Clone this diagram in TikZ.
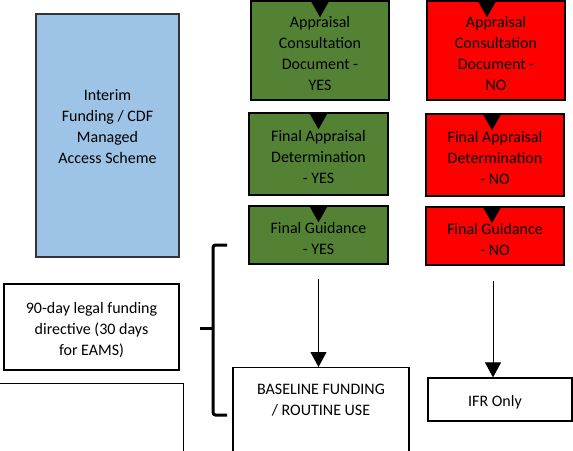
\documentclass[tikz,border=0pt]{standalone}
\usepackage{fontspec}
\setmainfont{Carlito}
\usetikzlibrary{arrows.meta,calc}
\definecolor{boxgreen}{HTML}{548235}
\definecolor{boxred}{HTML}{FF0000}
\definecolor{boxblue}{HTML}{9DC3E6}
% centred block of lines, set a little low as in the boxes' text
\newcommand\boxlines[2][136pt]{\parbox{#1}{\centering\vspace*{6pt}#2}}
\begin{document}
\begin{tikzpicture}[x=1pt,y=-1pt,
  txt/.style={font=\fontsize{16}{21}\selectfont, align=center, inner sep=0pt},
  box/.style={txt, draw=black, line width=1.6pt, minimum width=138pt},
  yesbox/.style={box, fill=boxgreen},
  nobox/.style={box, fill=boxred},
  plainbox/.style={txt, draw=black, line width=1.2pt},
  tiponly/.style={-{Triangle[length=17pt,width=19pt]}, line width=0.5pt},
  flow/.style={-{Triangle[length=15pt,width=16pt]}, line width=1pt},
  bracket/.style={line width=3pt, rounded corners=2.5pt}]
\useasboundingbox (0,0) rectangle (573,450);
\clip (0,0) rectangle (573,450);

% interim funding column
\node[txt, draw=black!80, line width=1.2pt, fill=boxblue] (interim) at (107.5,135.5)
  {\parbox[c][243pt][c]{143pt}{\centering Interim\\Funding / CDF\\Managed\\Access Scheme\par\vspace{18pt}}};

% positive route
\node[yesbox, minimum height=99pt] (g1) at (320,50.5) {\boxlines{Appraisal\\Consultation\\Document -\\YES}};
\node[yesbox, minimum width=139pt, minimum height=82pt] (g2) at (318.5,154) {\boxlines{Final Appraisal\\Determination\\- YES}};
\node[yesbox, minimum width=139pt, minimum height=58pt] (g3) at (318.5,235) {\boxlines{Final Guidance\\- YES}};

% negative route
\node[nobox, minimum height=99pt] (r1) at (496,50.5) {\boxlines{Appraisal\\Consultation\\Document -\\NO}};
\node[nobox, minimum height=82pt] (r2) at (495,155) {\boxlines{Final Appraisal\\Determination\\- NO}};
\node[nobox, minimum height=58pt] (r3) at (495,236) {\boxlines{Final Guidance\\- NO}};

% arrow heads entering each stage
\draw[tiponly] (g1.north) -- ++(0,17);
\draw[tiponly] (g2.north) -- ++(0,17);
\draw[tiponly] (g3.north) -- ++(0,17);
\draw[tiponly] ([xshift=-9pt]r1.north) -- ++(0,17);
\draw[tiponly] ([xshift=-3pt]r2.north) -- ++(0,17);
\draw[tiponly] ([xshift=-3pt]r3.north) -- ++(0,17);

% outcomes
\node[plainbox, anchor=north] (base) at (321,367)
  {\parbox[t][110pt][t]{176pt}{\centering\vspace*{17pt}BASELINE FUNDING\\/ ROUTINE USE}};
\node[plainbox, minimum width=144pt, minimum height=43pt] (ifr) at (500,399.5) {\boxlines{\hspace*{-10pt}IFR Only}};

\draw[flow] ([yshift=-14pt]g3.south) -- (g3.south |- base.north);
\draw[flow] ($(r3.south)+(-2,15)$) -- ($(r3.south |- ifr.north)+(-2,0)$);

% legal directive and spare box
\node[plainbox, minimum width=175pt, minimum height=86pt] (legal) at (91.5,327)
  {\boxlines[170pt]{90-day legal funding\\directive (30 days\\for EAMS)}};
\node[plainbox, minimum width=188pt, minimum height=90pt, anchor=north west] (spare) at (-5,383) {};

% bracket grouping the funding period
\draw[bracket] (227,245) -- (213,245) -- (213,415) -- (227,415);
\draw[line width=3pt] (200,328) -- (213,328);
\end{tikzpicture}
\end{document}
